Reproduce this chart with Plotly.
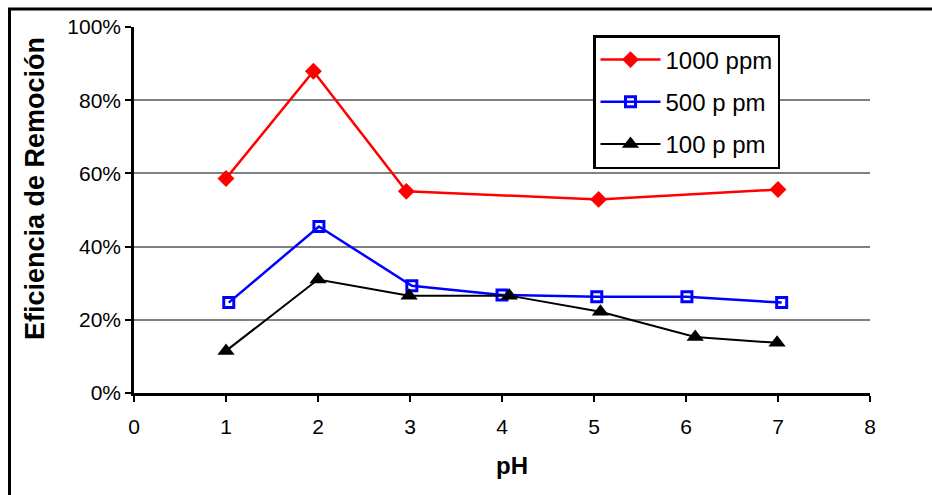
import plotly.graph_objects as go

# Removal efficiency (%) versus pH for three initial concentrations
ph_1000 = [1.0, 1.95, 2.96, 5.05, 7.0]
ef_1000 = [58.6, 87.9, 55.1, 52.9, 55.6]

ph_500 = [1.03, 2.01, 3.02, 4.0, 5.03, 6.01, 7.04]
ef_500 = [24.7, 45.5, 29.3, 26.8, 26.3, 26.3, 24.7]

ph_100 = [1.0, 2.0, 2.99, 4.08, 5.07, 6.1, 6.99]
ef_100 = [11.5, 31.0, 26.6, 26.6, 22.2, 15.3, 13.7]

series_names = ["1000 ppm", "500 p pm", "100 p pm"]
x_ticks = list(range(0, 9))
y_ticks = [0, 20, 40, 60, 80, 100]
y_tick_text = [f"{v}%" for v in y_ticks]

FONT = "Liberation Sans, Arial, sans-serif"

fig = go.Figure()
fig.add_trace(go.Scatter(
    x=ph_1000, y=ef_1000, mode="lines+markers", name=series_names[0],
    legendgroup="a",
    line=dict(color="#ff0000", width=2.5),
    marker=dict(symbol="diamond", size=13, color="#ff0000"),
))
fig.add_trace(go.Scatter(
    x=ph_500, y=ef_500, mode="lines+markers", name=series_names[1],
    legendgroup="b",
    line=dict(color="#0000ff", width=2.5),
    marker=dict(symbol="square-open", size=10, color="#0000ff",
                line=dict(width=3, color="#0000ff")),
))
fig.add_trace(go.Scatter(
    x=ph_100, y=ef_100, mode="lines+markers", name=series_names[2],
    legendgroup="c",
    line=dict(color="#000000", width=2),
    marker=dict(symbol="triangle-up", size=15, color="#000000"),
))

L, R, T, B = 134, 62, 27, 102
W, H = 932, 495
pw, ph = W - L - R, H - T - B


def px_x(px):
    return (px - L) / pw


def px_y(py):
    return (H - B - py) / ph


fig.update_layout(
    width=W, height=H,
    margin=dict(l=L, r=R, t=T, b=B),
    paper_bgcolor="white", plot_bgcolor="white",
    font=dict(family=FONT, color="black"),
    showlegend=True,
    legend=dict(
        x=px_x(593), y=px_y(35), xanchor="left", yanchor="top",
        bgcolor="white", bordercolor="black", borderwidth=2.5,
        font=dict(family=FONT, size=24, color="black"),
        itemwidth=60, tracegroupgap=8,
    ),
    xaxis=dict(
        range=[0, 8], tickvals=x_ticks, ticktext=[str(v) for v in x_ticks],
        showgrid=False, zeroline=False,
        showline=True, linecolor="black", linewidth=2.5,
        ticks="outside", ticklen=6, tickwidth=2, tickcolor="black",
        ticklabelstandoff=7,
        tickfont=dict(family=FONT, size=21),
    ),
    yaxis=dict(
        range=[0, 100], tickvals=y_ticks, ticktext=y_tick_text,
        showgrid=True, gridcolor="#808080", gridwidth=2,
        zeroline=False,
        showline=True, linecolor="black", linewidth=2.5,
        ticks="outside", ticklen=6, tickwidth=2, tickcolor="black",
        tickfont=dict(family=FONT, size=21),
    ),
    annotations=[
        dict(text="<b>Eficiencia de Remoción</b>", xref="paper", yref="paper",
             x=px_x(35), y=px_y(189), textangle=-90, showarrow=False,
             xanchor="center", yanchor="middle",
             font=dict(family=FONT, size=27, color="black")),
        dict(text="<b>pH</b>", xref="paper", yref="paper",
             x=px_x(512), y=px_y(466), showarrow=False,
             xanchor="center", yanchor="middle",
             font=dict(family=FONT, size=24, color="black")),
    ],
    shapes=[
        # outer chart frame (top and left edges visible)
        dict(type="line", xref="paper", yref="paper",
             x0=px_x(8), x1=px_x(940), y0=px_y(9), y1=px_y(9),
             line=dict(color="black", width=3)),
        dict(type="line", xref="paper", yref="paper",
             x0=px_x(9.5), x1=px_x(9.5), y0=px_y(8), y1=px_y(500),
             line=dict(color="black", width=3)),
    ],
)

fig.write_html("out.html")
